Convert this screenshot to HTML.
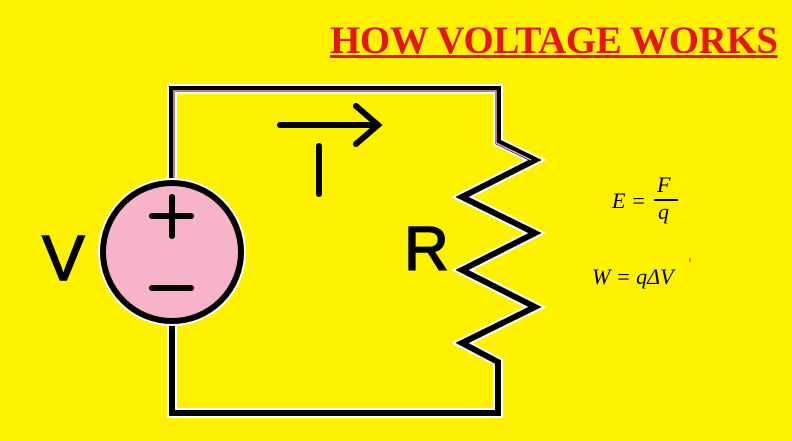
<!DOCTYPE html>
<html><head><style>
body{margin:0;width:792px;height:441px;background:#fff200;overflow:hidden;position:relative;font-family:"Liberation Sans",sans-serif}
.t{position:absolute;left:330px;top:18px;font:bold 39px "Liberation Serif",serif;color:#e8141b;text-decoration:underline;text-decoration-thickness:3px;white-space:nowrap;letter-spacing:-0.4px}
.m{position:absolute;font:italic 22px "Liberation Serif",serif;color:#000}
</style></head><body>
<div class="t">HOW VOLTAGE WORKS</div>
<svg width="792" height="441" style="position:absolute;left:0;top:0">
<g fill="none" stroke-linejoin="miter">
<polyline points="172,182 172,89 498,89 498,142 535,160 462,197 535,233 462,270 535,307 462,343 498,362 498,413 172,413 172,322" stroke="#fff" stroke-width="10"/>
<polyline points="172,182 172,89 498,89 498,142 535,160 462,197 535,233 462,270 535,307 462,343 498,362 498,413 172,413 172,322" stroke="#000" stroke-width="6"/>
<polyline points="174,182 174,91 496,91 496,143 531,160" stroke="#f4a8c4" stroke-width="1.5"/>
<circle cx="172" cy="252" r="69" fill="#f7b3cc" stroke="#fff" stroke-width="10"/>
<circle cx="172" cy="252" r="69" fill="#f7b3cc" stroke="#000" stroke-width="6"/>
<g stroke="#000" stroke-width="6" stroke-linecap="round">
<line x1="152" y1="216" x2="191" y2="216"/><line x1="172" y1="197" x2="172" y2="236"/>
<line x1="152" y1="288" x2="191" y2="288"/>
<line x1="280" y1="125" x2="378" y2="125"/><polyline points="356,106 378,125 356,144"/>
<line x1="319" y1="146" x2="319" y2="194"/>
</g></g>
<text x="404" y="270" font-size="62" font-family="Liberation Sans" fill="#000" stroke="#000" stroke-width="1.5">R</text>
<text x="42" y="280" font-size="64" font-family="Liberation Sans" fill="#000" stroke="#000" stroke-width="1.5">V</text>
<line x1="690" y1="258" x2="690" y2="262" stroke="#e8141b" stroke-width="1"/>
</svg>
<div class="m" style="left:612px;top:188px">E =</div>
<div class="m" style="left:657px;top:172px">F</div>
<div style="position:absolute;left:654px;top:199px;width:24px;height:1.5px;background:#000"></div>
<div class="m" style="left:658px;top:199px">q</div>
<div class="m" style="left:592px;top:264px">W = q&Delta;V</div>
</body></html>
